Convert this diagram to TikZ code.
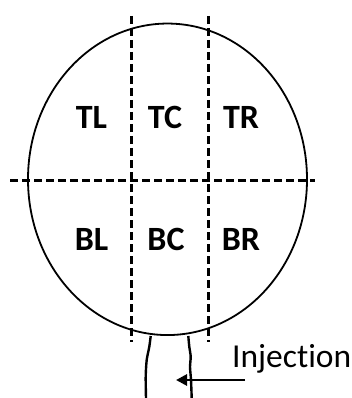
\documentclass[tikz,border=0pt]{standalone}
\usepackage{fontspec}
\setmainfont[Ligatures={NoCommon}]{Carlito}
\usetikzlibrary{arrows.meta}
\begin{document}
\begin{tikzpicture}[x=1pt,y=-1pt,
  region/.style={font=\fontsize{34}{38}\selectfont\bfseries, inner sep=0pt},
  divider/.style={line width=3pt, dash pattern=on 8pt off 4pt},
  outline/.style={line width=1.8pt},
  neckline/.style={line width=2.4pt},
  arrowline/.style={line width=2.8pt, -{Triangle[length=11pt,width=11pt]}}]
\useasboundingbox (0,0) rectangle (352,398);
% ellipse (chamber)
\draw[outline] (167.5,179.3) ellipse [x radius=139.5pt, y radius=155.75pt];
% dashed dividers
\draw[divider] (131,16) -- (131,342);
\draw[divider] (208,16) -- (208,342);
\draw[divider] (10,180) -- (315,180);
% region labels
\node[region] (TL) at (91.5,117.5) {TL};
\node[region] (TC) at (165,117.5) {TC};
\node[region] (TR) at (241,117.5) {TR};
\node[region] (BL) at (91.5,239) {BL};
\node[region] (BC) at (166,239) {BC};
\node[region] (BR) at (241,239) {BR};
% neck
\draw[neckline] plot[smooth] coordinates {(150.7,336) (149.3,346.7) (146.7,360) (145.7,376.7) (146,398)};
\draw[neckline] plot[smooth] coordinates {(188.3,336) (189.3,346.7) (190.7,356.7) (190,366.7) (191,380) (191.7,398)};
% injection
\node[font=\fontsize{33.5}{37}\selectfont, inner sep=0pt, anchor=base west] (inj) at (232,367) {Injection};
\coordinate (arrS) at (245,380);
\coordinate (arrE) at (176,380);
\draw[arrowline] (arrS) -- (arrE);
\end{tikzpicture}
\end{document}
